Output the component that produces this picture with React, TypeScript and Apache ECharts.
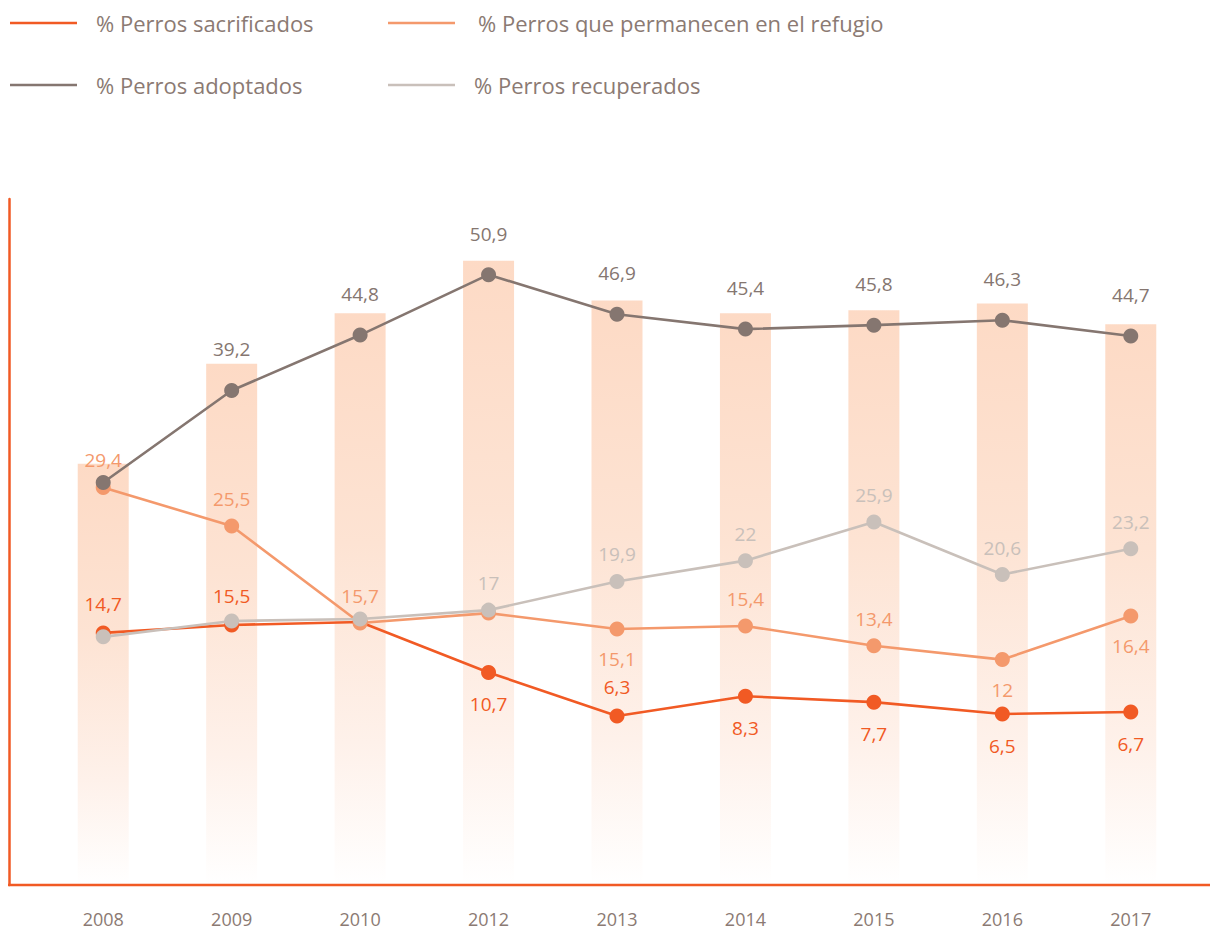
import React, { useEffect, useRef } from "react";
import * as echarts from "echarts";

const years = ["2008", "2009", "2010", "2012", "2013", "2014", "2015", "2016", "2017"];
const sacrificados = [14.7, 15.5, 15.8, 10.7, 6.3, 8.3, 7.7, 6.5, 6.7];
const permanecen = [29.4, 25.5, 15.7, 16.7, 15.1, 15.4, 13.4, 12, 16.4];
const adoptados = [29.9, 39.2, 44.8, 50.9, 46.9, 45.4, 45.8, 46.3, 44.7];
const recuperados = [14.3, 15.9, 16.1, 17, 19.9, 22, 25.9, 20.6, 23.2];
const barTops = [31.8, 41.9, 47.0, 52.3, 48.3, 47.0, 47.3, 48.0, 45.9];

const sacrLabelPos = ["top", "top", null, "bottom", "top", "bottom", "bottom", "bottom", "bottom"];
const permLabelPos = ["top", "top", "top", null, "bottom", "top", "top", "bottom", "bottom"];
const adoptLabelPos = [null, "top", "top", "top", "top", "top", "top", "top", "top"];
const recupLabelPos = [null, null, null, "top", "top", "top", "top", "top", "top"];

const names = [
  "% Perros sacrificados",
  "% Perros que permanecen en el refugio",
  "% Perros adoptados",
  "% Perros recuperados",
];

const C_SACR = "#F15A24";
const C_PERM = "#F4996C";
const C_ADOPT = "#857670";
const C_RECUP = "#C9C0BA";
const C_TEXT = "#8B7A73";
const FONT = "'Open Sans', 'Noto Sans', sans-serif";

const Y_MIN = -10.78;
const Y_MAX = 58.55;

function fmt(v: number) {
  return String(v).replace(".", ",");
}

function buildData(values: number[], pos: (string | null)[], dist: number) {
  return values.map((v, i) => ({
    value: v,
    label: pos[i]
      ? { show: true, position: pos[i], distance: pos[i] === "bottom" ? dist + 3 : dist }
      : { show: false },
  }));
}

function lineSeries(name: string, color: string, data: any[], z: number) {
  return {
    type: "line",
    name,
    data,
    z,
    symbol: "circle",
    symbolSize: 15,
    lineStyle: { color, width: 2.6 },
    itemStyle: { color },
    label: {
      color,
      fontSize: 19,
      fontFamily: FONT,
      formatter: (p: any) => fmt(p.value),
    },
  };
}

export default function App() {
  const ref = useRef<HTMLDivElement>(null);
  useEffect(() => {
    if (!ref.current) return;
    const chart = echarts.init(ref.current, undefined, { renderer: "svg" });
    const legendBase = {
      icon: "rect",
      itemWidth: 67,
      itemHeight: 2.5,
      selectedMode: false,
      textStyle: { color: C_TEXT, fontSize: 22, fontFamily: FONT, padding: [0, 0, 0, 14] },
    };
    chart.setOption({
      animation: false,
      backgroundColor: "#ffffff",
      legend: [
        { ...legendBase, data: [names[0]], left: 5, top: 7 },
        { ...legendBase, data: [names[1]], left: 383, top: 7, textStyle: { ...legendBase.textStyle, padding: [0, 0, 0, 18] } },
        { ...legendBase, data: [names[2]], left: 5, top: 69 },
        { ...legendBase, data: [names[3]], left: 383, top: 69 },
      ],
      grid: { left: 39, right: 15, top: 199, bottom: 47, containLabel: false },
      xAxis: {
        type: "category",
        data: years,
        boundaryGap: true,
        axisLine: { show: false },
        axisTick: { show: false },
        axisLabel: { color: C_TEXT, fontSize: 18, fontFamily: FONT, margin: 25 },
      },
      yAxis: {
        type: "value",
        min: Y_MIN,
        max: Y_MAX,
        offset: 30,
        axisLine: { show: true, lineStyle: { color: C_SACR, width: 2.5 } },
        axisTick: { show: false },
        axisLabel: { show: false },
        splitLine: { show: false },
      },
      graphic: [
        {
          type: "line",
          shape: { x1: 8, y1: 885, x2: 1210, y2: 885 },
          style: { stroke: C_SACR, lineWidth: 2.5 },
          z: 10,
        },
      ],
      series: [
        {
          type: "custom",
          name: "bars",
          z: 1,
          silent: true,
          data: barTops.map((v, i) => [i, v]),
          renderItem: (params: any, api: any) => {
            const idx = api.value(0);
            const top = api.value(1);
            const pTop = api.coord([idx, top]);
            const pBot = api.coord([idx, Y_MIN]);
            const w = api.size([1, 0])[0] * 0.397;
            return {
              type: "rect",
              shape: { x: pTop[0] - w / 2, y: pTop[1], width: w, height: pBot[1] - pTop[1] },
              style: {
                fill: new echarts.graphic.LinearGradient(0, 0, 0, 1, [
                  { offset: 0, color: "#FDDAC5" },
                  { offset: 0.4, color: "#FDE3D3" },
                  { offset: 0.75, color: "#FEF1EA" },
                  { offset: 1, color: "#FFFFFF" },
                ]),
              },
            };
          },
        },
        lineSeries(names[0], C_SACR, buildData(sacrificados, sacrLabelPos, 12), 2),
        lineSeries(names[1], C_PERM, buildData(permanecen, permLabelPos, 10), 3),
        lineSeries(names[3], C_RECUP, buildData(recuperados, recupLabelPos, 10), 4),
        lineSeries(names[2], C_ADOPT, buildData(adoptados, adoptLabelPos, 24), 5),
      ],
    });
    return () => chart.dispose();
  }, []);
  return (
    <div
      ref={ref}
      style={{ position: "fixed", left: 0, top: 0, width: 1210, height: 932, background: "#fff" }}
    />
  );
}
